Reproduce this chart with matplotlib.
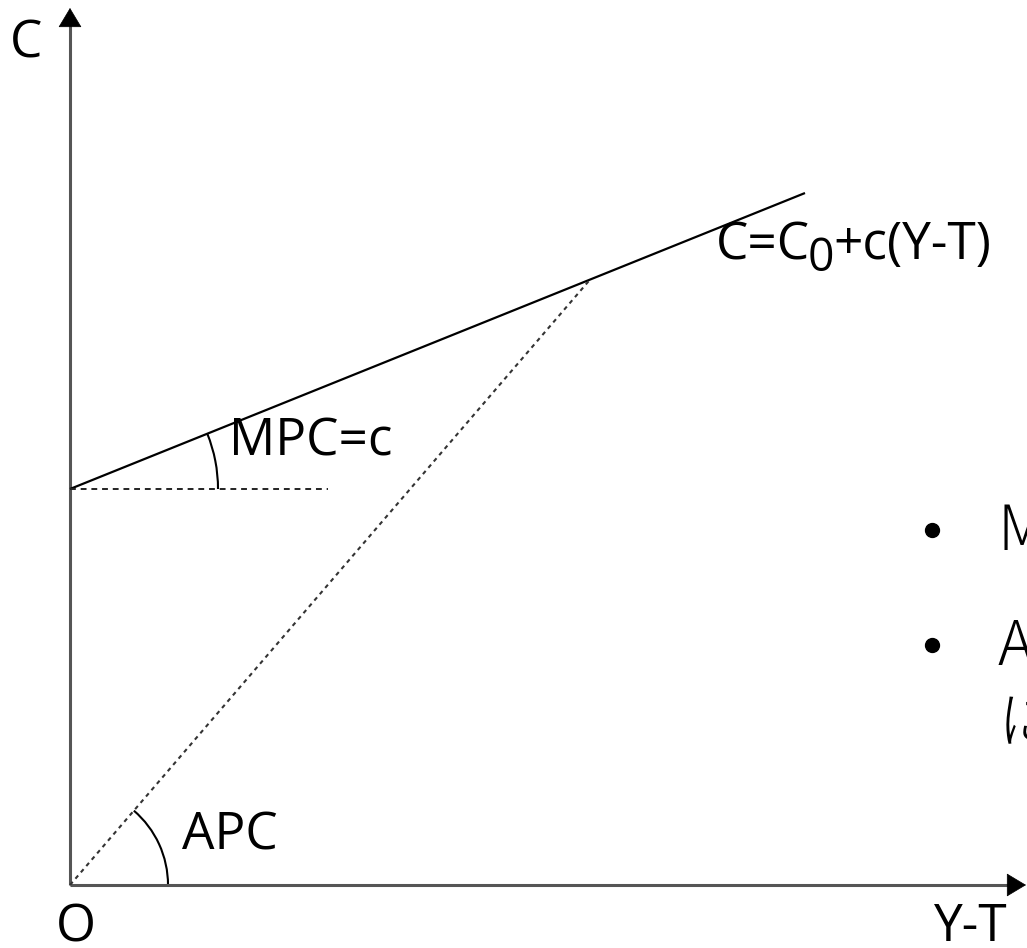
import matplotlib
matplotlib.use("Agg")
import matplotlib.pyplot as plt
import numpy as np
from matplotlib.patches import Arc

# ---- data (diagram units, origin O at (0,0)) ----
x_axis_end = 956
y_axis_end = 877
C0 = 396            # intercept of consumption function
c_slope = 0.4027    # MPC
x_line_end = 735    # extent of consumption function
x_tangent = 520     # point where the APC ray meets the line
mpc_ref_len = 258   # horizontal dotted reference length
r_mpc = 148
r_apc = 98
axis_labels = ["C", "O", "Y-T"]
formula_parts = ["C=C", "0", "+c(Y-T)"]
bullet_items = ["M", "A"]
bullet_cont = "に"

W, H = 1027, 948
fig = plt.figure(figsize=(W / 100, H / 100), dpi=100)
ax = fig.add_axes([0, 0, 1, 1])
ax.set_xlim(-70, W - 70)
ax.set_ylim(885 - H, 885)
ax.axis("off")

font = "Open Sans"
axis_col = "#555555"
head = 18

# axes: gray shafts, black arrow heads
ax.plot([0, 0], [0, y_axis_end - head + 2], color=axis_col, lw=2.2, solid_capstyle="butt")
ax.plot([0, x_axis_end - head + 2], [0, 0], color=axis_col, lw=2.2, solid_capstyle="butt")
ap = dict(arrowstyle="-|>,head_length=1.0,head_width=0.6",
          color="black", lw=0.5, shrinkA=0, shrinkB=0, mutation_scale=13)
ax.annotate("", xy=(0, y_axis_end), xytext=(0, y_axis_end - head), arrowprops=ap)
ax.annotate("", xy=(x_axis_end, 0), xytext=(x_axis_end - head, 0), arrowprops=ap)

# consumption function
xs = np.array([0, x_line_end])
ax.plot(xs, C0 + c_slope * xs, color="black", lw=1.6, solid_capstyle="butt")

# APC ray
yt = C0 + c_slope * x_tangent
ax.plot([0, x_tangent], [0, yt], color="#333333", lw=1.5, linestyle=(0, (2, 2)))

# horizontal dotted reference
ax.plot([0, mpc_ref_len], [C0, C0], color="#222222", lw=1.4, linestyle=(0, (3, 2.5)))

# angle arcs
ang_mpc = np.degrees(np.arctan(c_slope))
ax.add_patch(Arc((0, C0), 2 * r_mpc, 2 * r_mpc, theta1=0, theta2=ang_mpc,
                 color="black", lw=1.5))
ang_apc = np.degrees(np.arctan2(yt, x_tangent))
ax.add_patch(Arc((0, 0), 2 * r_apc, 2 * r_apc, theta1=0, theta2=ang_apc,
                 color="black", lw=1.5))

fs = 37
ax.text(10 - 70, 885 - 57, axis_labels[0], fontsize=fs, family=font, ha="left", va="baseline")
ax.text(56 - 70, 885 - 941, axis_labels[1], fontsize=fs, family=font, ha="left", va="baseline")
ax.text(934 - 70, 885 - 941, axis_labels[2], fontsize=fs, family=font, ha="left", va="baseline")

ax.text(229 - 70, 885 - 455, "MPC=c", fontsize=fs, family=font, ha="left", va="baseline")
ax.text(182 - 70, 885 - 850, "APC", fontsize=fs, family=font, ha="left", va="baseline")

# formula with lowered subscript
fig.canvas.draw()
r = fig.canvas.get_renderer()
xpix, ypix = 716, 885 - 259
t1 = ax.text(xpix - 70, ypix, formula_parts[0], fontsize=fs, family=font,
             ha="left", va="baseline")
w1 = t1.get_window_extent(r).width
t2 = ax.text(xpix - 70 + w1 - 2, ypix - 12, formula_parts[1], fontsize=fs * 0.9, family=font,
             ha="left", va="baseline")
w2 = t2.get_window_extent(r).width
ax.text(xpix - 70 + w1 + w2 - 3, ypix, formula_parts[2], fontsize=fs, family=font,
        ha="left", va="baseline")

# bullets (cut off at right edge, as in the reference)
bfs = 44
jp = ["Noto Sans CJK JP", "DejaVu Sans"]
ax.plot([932 - 70], [885 - 530], "o", color="black", ms=10)
ax.plot([932 - 70], [885 - 645], "o", color="black", ms=10)
ax.text(998 - 70, 885 - 550, bullet_items[0], fontsize=bfs, family=jp,
        fontweight="light", ha="left", va="baseline")
ax.text(998 - 70, 885 - 665, bullet_items[1], fontsize=bfs, family=jp,
        fontweight="light", ha="left", va="baseline")
ax.text(998 - 70, 885 - 742, bullet_cont, fontsize=bfs, family=jp,
        fontweight="light", ha="left", va="baseline")

fig.savefig("out.png", dpi=100)
